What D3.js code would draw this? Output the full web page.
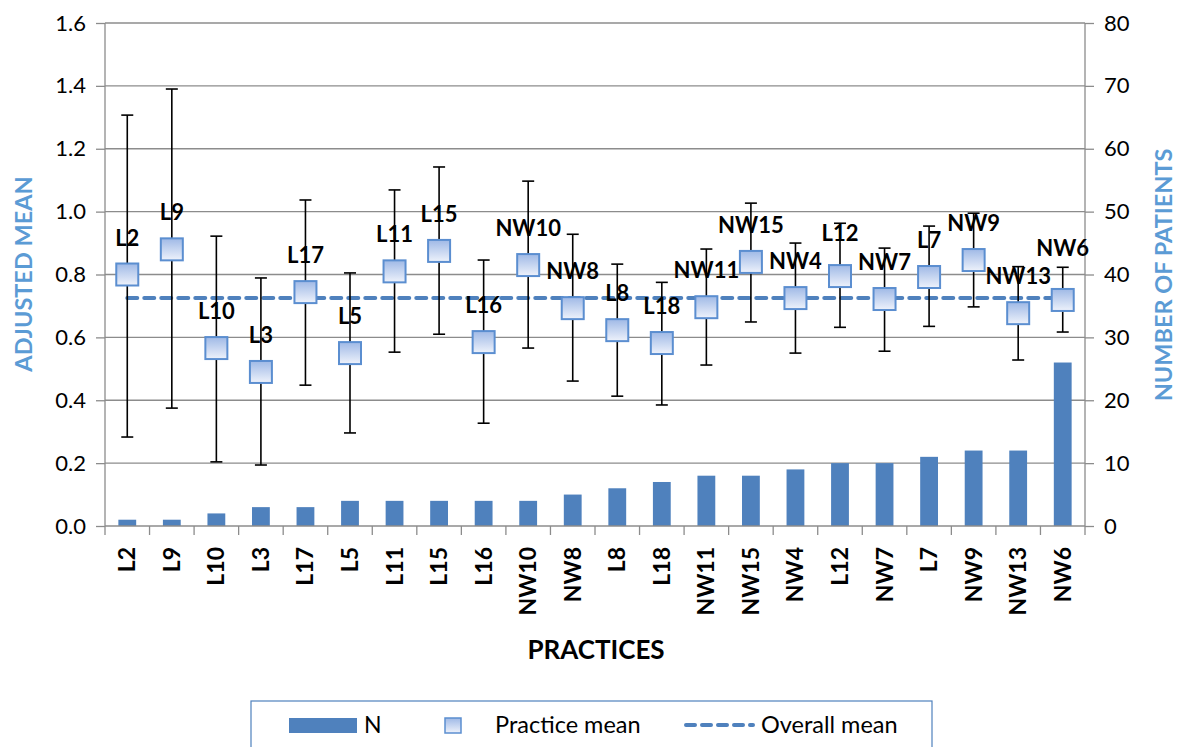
<!DOCTYPE html>
<html><head><meta charset="utf-8">
<script src="https://cdn.jsdelivr.net/npm/d3@7"></script>
<style>body{margin:0;background:#fff}svg{display:block}</style>
</head><body>
<script>
const practices = ["L2","L9","L10","L3","L17","L5","L11","L15","L16","NW10","NW8","L8","L18","NW11","NW15","NW4","L12","NW7","L7","NW9","NW13","NW6"];
const patientsN = [1,1,2,3,3,4,4,4,4,4,5,6,7,8,8,9,10,10,11,12,12,26];
const practiceMean = [0.80,0.88,0.566,0.49,0.744,0.55,0.81,0.875,0.585,0.83,0.693,0.623,0.582,0.696,0.84,0.725,0.795,0.722,0.792,0.846,0.677,0.719];
const upperCI = [1.307,1.39,0.922,0.789,1.037,0.805,1.069,1.142,0.846,1.097,0.928,0.833,0.775,0.881,1.027,0.90,0.963,0.884,0.954,0.995,0.825,0.823];
const lowerCI = [0.283,0.375,0.204,0.194,0.448,0.296,0.553,0.61,0.327,0.566,0.461,0.413,0.385,0.512,0.649,0.55,0.632,0.556,0.635,0.697,0.528,0.617];
const overallMean = 0.725;
const leftTicks = [0,0.2,0.4,0.6,0.8,1.0,1.2,1.4,1.6];
const rightTicks = [0,10,20,30,40,50,60,70,80];

const W=1177,H=747;
const L=105,R=1085,T=23,B=526;
const font="Lato, 'Open Sans', sans-serif";
const svg=d3.select("body").append("svg").attr("width",W).attr("height",H);
const defs=svg.append("defs");
const g=defs.append("linearGradient").attr("id","mk").attr("x1",0).attr("y1",0).attr("x2",0).attr("y2",1);
g.append("stop").attr("offset","0%").attr("stop-color","#9fb9e6");
g.append("stop").attr("offset","100%").attr("stop-color","#eef2fb");

const x=d3.scaleBand().domain(practices).range([L,R]).paddingInner(0.6).paddingOuter(0.3);
const xb=d3.scaleBand().domain(practices).range([L,R]);
const yL=d3.scaleLinear().domain([0,1.6]).range([B,T]);
const yR=d3.scaleLinear().domain([0,80]).range([B,T]);
const cx=d=>xb(d)+xb.bandwidth()/2;

// gridlines
svg.append("g").selectAll("line").data(leftTicks.slice(1)).join("line")
 .attr("x1",L).attr("x2",R).attr("y1",d=>yL(d)).attr("y2",d=>yL(d))
 .attr("stroke","#8c8c8c").attr("stroke-width",1.3);

// left axis
const ax1=svg.append("g").attr("transform",`translate(${L},0)`)
 .call(d3.axisLeft(yL).tickValues(leftTicks).tickFormat(d3.format(".1f")).tickSize(9).tickPadding(10));
// right axis
const ax2=svg.append("g").attr("transform",`translate(${R},0)`)
 .call(d3.axisRight(yR).tickValues(rightTicks).tickSize(9).tickPadding(10));
[ax1,ax2].forEach(a=>{a.select(".domain").attr("stroke","#8c8c8c").attr("stroke-width",1.3);
 a.selectAll(".tick line").attr("stroke","#8c8c8c").attr("stroke-width",1.3);
 a.selectAll("text").attr("font-family",font).attr("font-size",22).attr("fill","#000");});
ax1.select(".domain").attr("d",`M0,${B}V${T}`);
ax2.select(".domain").attr("d",`M0,${B}V${T}`);

// bars
svg.append("g").selectAll("rect").data(practices).join("rect")
 .attr("x",d=>x(d)).attr("width",x.bandwidth())
 .attr("y",(d,i)=>yR(patientsN[i])).attr("height",(d,i)=>B-yR(patientsN[i]))
 .attr("fill","#4f81bd");

// x axis
const ax3=svg.append("g").attr("transform",`translate(0,${B})`)
 .call(d3.axisBottom(xb).tickSize(0).tickFormat(""));
ax3.select(".domain").attr("stroke","#8c8c8c").attr("stroke-width",1.3).attr("d",`M${L},0H${R}`);
svg.append("g").selectAll("line").data(d3.range(practices.length+1)).join("line")
 .attr("x1",i=>L+i*xb.step()).attr("x2",i=>L+i*xb.step()).attr("y1",B).attr("y2",B+9)
 .attr("stroke","#8c8c8c").attr("stroke-width",1.3);
svg.append("g").selectAll("text").data(practices).join("text")
 .attr("transform",d=>`translate(${cx(d)+8},${B+21}) rotate(-90)`)
 .attr("text-anchor","end").attr("font-family",font).attr("font-size",23).attr("font-weight","bold")
 .text(d=>d);

// overall mean dashed line
svg.append("line").attr("x1",cx(practices[0])).attr("x2",cx(practices[practices.length-1]))
 .attr("y1",yL(overallMean)).attr("y2",yL(overallMean))
 .attr("stroke","#4f81bd").attr("stroke-width",4).attr("stroke-dasharray","10,7").attr("stroke-linecap","round");

// error bars
const eb=svg.append("g").attr("stroke","#000").attr("stroke-width",1.6);
practices.forEach((p,i)=>{
 eb.append("line").attr("x1",cx(p)).attr("x2",cx(p)).attr("y1",yL(upperCI[i])).attr("y2",yL(lowerCI[i]));
 [upperCI[i],lowerCI[i]].forEach(v=>eb.append("line").attr("x1",cx(p)-6).attr("x2",cx(p)+6).attr("y1",yL(v)).attr("y2",yL(v)));
});

// markers
svg.append("g").selectAll("rect").data(practices).join("rect")
 .attr("x",d=>cx(d)-11).attr("y",(d,i)=>yL(practiceMean[i])-11).attr("width",22).attr("height",22)
 .attr("fill","url(#mk)").attr("stroke","#5b8ed0").attr("stroke-width",2);

// data labels (lifted when colliding with the previous one)
const labels=svg.append("g").selectAll("text").data(practices).join("text")
 .attr("x",d=>cx(d)).attr("y",(d,i)=>yL(practiceMean[i])-29)
 .attr("text-anchor","middle").attr("font-family",font).attr("font-size",22).attr("font-weight","bold")
 .text(d=>d);
let prev=null;
labels.each(function(){
 const bb=this.getBBox();
 if(prev && bb.x < prev.x+prev.width && bb.x+bb.width > prev.x && bb.y < prev.y+prev.height && bb.y+bb.height > prev.y){
   const shift=(bb.y+bb.height)-prev.y+1;
   d3.select(this).attr("y",+d3.select(this).attr("y")-shift);
 }
 prev=this.getBBox();
});

// axis titles
svg.append("text").attr("transform",`translate(32,274) rotate(-90)`).attr("text-anchor","middle")
 .attr("font-family",font).attr("font-size",23.5).attr("font-weight","bold").attr("fill","#5b9bd5").text("ADJUSTED MEAN");
svg.append("text").attr("transform",`translate(1172,275) rotate(-90)`).attr("text-anchor","middle")
 .attr("font-family",font).attr("font-size",23.5).attr("font-weight","bold").attr("fill","#5b9bd5").text("NUMBER OF PATIENTS");
svg.append("text").attr("x",596).attr("y",659).attr("text-anchor","middle")
 .attr("font-family",font).attr("font-size",26).attr("font-weight","bold").text("PRACTICES");

// legend
const lg=svg.append("g");
lg.append("rect").attr("x",251).attr("y",701).attr("width",681).attr("height",60).attr("fill","#fff").attr("stroke","#4f81bd").attr("stroke-width",1.2);
lg.append("rect").attr("x",289).attr("y",718).attr("width",68).attr("height",15).attr("fill","#4f81bd");
lg.append("text").attr("x",364).attr("y",733).attr("font-family",font).attr("font-size",23).text("N");
lg.append("rect").attr("x",445).attr("y",718).attr("width",16).attr("height",15).attr("fill","url(#mk)").attr("stroke","#5b8ed0").attr("stroke-width",1.5);
lg.append("text").attr("x",495).attr("y",733).attr("font-family",font).attr("font-size",23.5).text("Practice mean");
lg.append("line").attr("x1",686).attr("x2",753).attr("y1",725).attr("y2",725).attr("stroke","#4f81bd").attr("stroke-width",4).attr("stroke-dasharray","9,7").attr("stroke-linecap","round");
lg.append("text").attr("x",761).attr("y",733).attr("font-family",font).attr("font-size",23.5).text("Overall mean");
</script>
</body></html>
